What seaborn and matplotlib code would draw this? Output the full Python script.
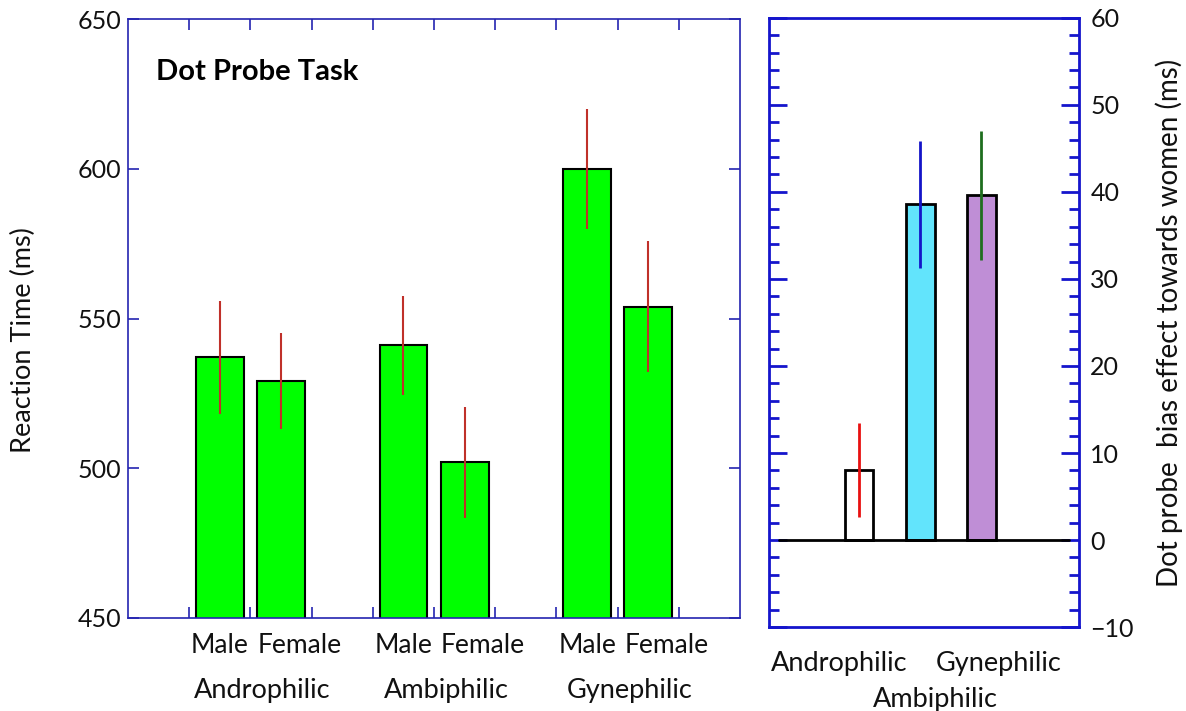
import numpy as np
import pandas as pd
import matplotlib
matplotlib.use('Agg')
import matplotlib.pyplot as plt
import seaborn as sns

# Data
groups = ['Androphilic', 'Ambiphilic', 'Gynephilic']
sexes = ['Male', 'Female']
rt_mean = [537, 529, 541, 502, 600, 554]
rt_err = [19, 16, 16.5, 18.5, 20, 22]
bias_mean = [8, 38.6, 39.6]
bias_err = [5.4, 7.3, 7.4]
bias_colors = ['white', '#62e4fc', '#bf8ed6']
bias_err_colors = ['#e81010', '#1414c8', '#1e6e1e']

sns.set_style('white')
plt.rcParams['font.family'] = ['Lato', 'DejaVu Sans']
plt.rcParams['text.color'] = '#111111'
plt.rcParams['axes.labelcolor'] = '#111111'
plt.rcParams['xtick.labelcolor'] = '#111111'
plt.rcParams['ytick.labelcolor'] = '#111111'

# Left panel table: two bars per group, a spare slot between groups
rows = []
for gi, g in enumerate(groups):
    for si, s in enumerate(sexes):
        k = gi * 2 + si
        rows.append({'group': g, 'sex': s, 'pos': 3 * gi + 0.5 + si,
                     'rt': rt_mean[k], 'err': rt_err[k]})
rt = pd.DataFrame(rows)

bias = pd.DataFrame({'group': groups, 'bias': bias_mean, 'err': bias_err})

fig = plt.figure(figsize=(11.86, 7.11), dpi=100)
ax1 = fig.add_axes([0.108, 0.131, 0.516, 0.842])
ax2 = fig.add_axes([0.648, 0.118, 0.262, 0.857])

# ---- left panel: reaction times
bar_w = 0.78
sns.barplot(data=rt, x='pos', y='rt', native_scale=True, color='#00ff00',
            edgecolor='black', linewidth=1.5, width=bar_w, errorbar=None,
            saturation=1, ax=ax1)
ax1.vlines(rt['pos'], rt['rt'] - rt['err'], rt['rt'] + rt['err'],
           color='#c0302a', lw=1.5, zorder=5)
ax1.set_xlim(-1, 9)
ax1.set_ylim(450, 650)
ax1.set_xticks(np.arange(0, 9))
ax1.set_xticklabels([])
ax1.set_yticks([450, 500, 550, 600, 650])
ax1.tick_params(axis='x', direction='in', length=8, width=1.2, color='#2424b0',
                top=True, bottom=True)
ax1.tick_params(axis='y', direction='in', length=8, width=1.2, color='#2424b0',
                left=True, right=True, labelsize=18, pad=5)
for sp in ax1.spines.values():
    sp.set_color('#2424b0')
    sp.set_linewidth(1.2)
ax1.set_xlabel('')
ax1.set_ylabel('Reaction Time (ms)', fontsize=19.5)
ax1.yaxis.set_label_coords(-0.150, 0.464)
ax1.text(0.046, 0.912, 'Dot Probe Task', transform=ax1.transAxes,
         fontsize=21, fontweight='bold', va='center', ha='left', color='black')

for _, r in rt.iterrows():
    if r['sex'] == 'Male':
        x, ha = r['pos'], 'center'
    else:
        x, ha = r['pos'] - bar_w / 2, 'left'
    ax1.annotate(r['sex'], xy=(x, 0), xycoords=('data', 'axes fraction'),
                 xytext=(0, -11), textcoords='offset points',
                 ha=ha, va='top', fontsize=19)
for gi, g in enumerate(groups):
    ax1.annotate(g, xy=(3 * gi + 1.2, 0), xycoords=('data', 'axes fraction'),
                 xytext=(0, -43), textcoords='offset points',
                 ha='center', va='top', fontsize=19.5)

# ---- right panel: bias effect
sns.barplot(data=bias, x='group', y='bias', hue='group', palette=bias_colors,
            edgecolor='black', linewidth=2, width=0.47, errorbar=None,
            saturation=1, legend=False, ax=ax2)
for i, (m, e, c) in enumerate(zip(bias['bias'], bias['err'], bias_err_colors)):
    ax2.vlines(i, m - e, m + e, color=c, lw=2, zorder=5)
ax2.axhline(0, xmin=0.035, xmax=0.968, color='black', lw=2, zorder=4)
ax2.set_xlim(-1.48, 3.6)
ax2.set_ylim(-10, 60)
ax2.set_yticks(np.arange(-10, 61, 10))
ax2.set_yticks(np.arange(-10, 61, 2), minor=True)
ax2.set_xticks([])
ax2.yaxis.tick_right()
ax2.yaxis.set_label_position('right')
ax2.tick_params(axis='y', which='major', direction='in', length=13, width=2,
                color='#1515cc', left=True, right=True, labelsize=18, pad=8)
ax2.tick_params(axis='y', which='minor', direction='in', length=7, width=2,
                color='#1515cc', left=True, right=True)
for sp in ax2.spines.values():
    sp.set_color('#1515cc')
    sp.set_linewidth(2)
ax2.set_xlabel('')
ax2.set_ylabel('Dot probe  bias effect towards women (ms)', fontsize=20)
ax2.yaxis.set_label_coords(1.244, 0.5)

label_shift = [-0.33, 1.25, 2.28]
label_drop = [-17, -43, -17]
for g, xs, yd in zip(groups, label_shift, label_drop):
    ax2.annotate(g, xy=(xs, 0), xycoords=('data', 'axes fraction'),
                 xytext=(0, yd), textcoords='offset points',
                 ha='center', va='top', fontsize=19.5)

fig.savefig('out.png', dpi=100)
plt.close()
